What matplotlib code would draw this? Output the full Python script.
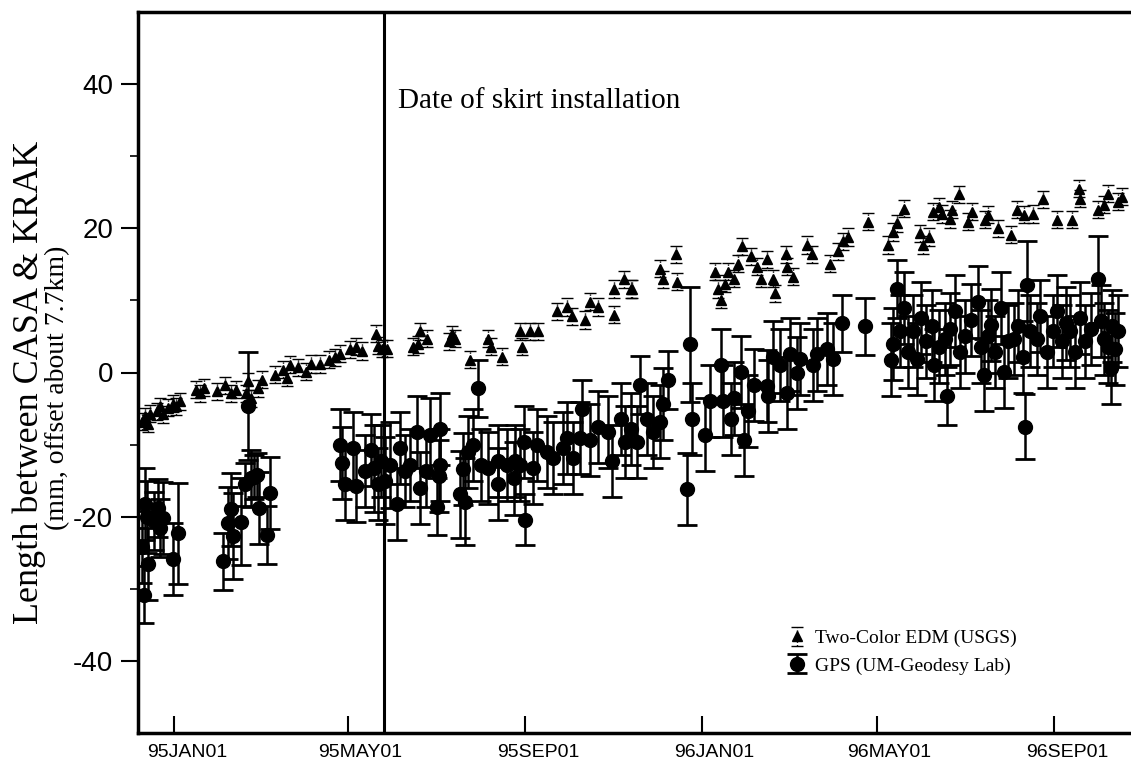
import matplotlib
matplotlib.use('Agg')
import matplotlib.pyplot as plt
import matplotlib.dates as mdates
import matplotlib.transforms as mtransforms
from matplotlib.ticker import FuncFormatter, FixedLocator
import numpy as np

plt.rcParams['axes.unicode_minus'] = False

# days counted from 1995-01-01
edm_day = [-22, -20, -18, -17, -12, -10, -8, -4, -1, 1, 4,
           15, 18, 21, 30, 35, 39, 43, 50, 51, 53, 58, 61, 70, 75, 78, 80, 86, 91, 95,
           101, 107, 111, 115, 122, 126, 130, 140, 141, 144, 147,
           165, 169, 170, 175, 190, 192, 194, 205, 217, 219, 227, 239, 241, 246, 252,
           265, 272, 275, 284, 288, 293, 304, 304, 311, 316, 317, 336, 338, 347, 348,
           374, 376, 378, 381, 383, 387, 390, 393, 399, 403, 406, 410, 414, 416,
           423, 424, 428, 438, 441, 454, 459, 463, 466, 480,
           494, 497, 500, 505, 516, 518, 522, 525, 529, 531, 537, 538, 543, 549, 552,
           561, 563, 570, 579, 583, 588, 594, 601, 611, 621, 626, 627, 639, 643, 646, 653, 656]
edm_mm = [-6.8, -6.1, -7.1, -5.7, -5.4, -4.7, -5.8, -4.9, -4.3, -4.7, -4.0,
          -2.4, -2.9, -2.1, -2.6, -1.8, -2.9, -2.4, -2.9, -1.2, -3.6, -2.2, -1.0, -0.3, 0.4, -0.7, 1.1, 0.7, 0.1, 1.2,
          1.2, 1.8, 2.1, 2.6, 3.2, 3.6, 3.0, 5.4, 3.7, 3.3, 3.3,
          3.6, 3.9, 5.7, 4.7, 4.3, 5.3, 4.7, 1.8, 4.7, 3.6, 2.2, 5.7, 3.6, 5.7, 5.7,
          8.5, 9.1, 7.8, 7.3, 9.8, 9.1, 11.6, 8.0, 12.9, 11.6, 11.6, 14.4, 12.9, 16.4, 12.6,
          14.0, 11.6, 10.1, 12.3, 14.0, 13.0, 15.1, 17.5, 16.1, 14.7, 13.0, 15.7, 13.0, 11.0,
          16.4, 14.7, 13.3, 17.7, 16.4, 15.1, 16.8, 18.2, 18.8, 20.9,
          17.7, 19.5, 20.7, 22.7, 19.3, 17.7, 18.8, 22.3, 23.0, 22.0, 21.3, 22.6, 24.7, 20.9, 22.3,
          21.2, 21.9, 20.0, 19.1, 22.6, 21.9, 22.0, 24.0, 21.2, 21.2, 25.5, 24.1, 22.6, 23.3, 24.8, 23.7, 24.4]
edm_err = 1.2

gps_day = [-20, -19, -22, -18, -21, -11, -8, -10, -14, -1, 3,
           34, 37, 39, 41, 46, 49, 51, 53, 55, 57, 59, 64, 66,
           115, 116, 118, 124, 126, 132, 136, 138, 141, 143, 146,
           149, 154, 156, 160, 163, 168, 170, 174, 177, 184, 184, 183, 182,
           198, 201, 200, 203, 210, 207, 212, 217, 224, 224, 230, 235, 236, 242, 239, 243,
           248, 251, 258, 262, 269, 272, 276, 282, 281, 288, 293, 300, 303, 309, 312, 316,
           320, 322, 327, 331, 336, 338, 342, 355, 357, 358,
           367, 371, 378, 380, 385, 387, 392, 394, 397, 401, 410, 411, 414, 419, 424,
           426, 431, 433, 442, 445, 452, 456, 462, 478,
           496, 497, 500, 502, 505, 508, 511, 514, 517, 520, 524, 526, 529, 533, 535,
           537, 540, 544, 547, 551, 556, 558, 560, 563, 565, 568, 572, 574, 577, 581,
           584, 587, 589, 590, 592, 597, 599, 604, 608, 611, 614, 617, 620, 623, 627,
           630, 634, 639, 641, 643, 646, 648, 649, 651, 653]
gps_mm = [-18.3, -20.0, -24.2, -26.6, -30.8, -18.8, -20.2, -21.6, -20.6, -25.9, -22.3,
          -26.2, -20.9, -19.0, -22.7, -20.7, -15.5, -4.7, -14.7, -14.5, -14.2, -18.8, -22.5, -16.7,
          -10.0, -12.6, -15.5, -10.5, -15.8, -13.7, -10.7, -13.3, -15.5, -12.3, -15.0,
          -12.8, -18.3, -10.5, -13.7, -12.8, -8.2, -16.0, -13.7, -8.6, -7.8, -12.8, -14.4, -18.6,
          -16.9, -17.9, -13.4, -11.0, -2.2, -10.0, -12.8, -13.3, -12.3, -15.5, -12.8, -14.7, -12.3, -9.6, -12.8, -20.4,
          -13.3, -10.0, -11.0, -11.9, -10.5, -9.1, -11.9, -5.0, -9.1, -9.3, -7.5, -8.2, -12.3, -6.4, -9.6, -7.8,
          -9.6, -1.7, -6.4, -8.2, -6.8, -4.4, -1.0, -16.2, 3.9, -6.5,
          -8.6, -4.0, 1.1, -4.0, -6.4, -3.6, 0.1, -9.3, -5.4, -1.7, -1.9, -3.3, 2.2, 1.1, -2.9,
          2.5, -0.1, 1.9, 1.1, 2.5, 3.3, 1.9, 6.8, 6.4,
          1.8, 3.9, 11.6, 5.7, 8.9, 2.9, 5.7, 1.9, 7.5, 4.3, 6.4, 1.1, 3.6, 4.7, -3.3,
          6.0, 8.5, 2.9, 5.0, 7.3, 9.8, 3.6, -0.3, 5.0, 6.6, 2.9, 8.9, 0.1, 4.3, 4.7,
          6.4, 2.2, -7.5, 12.2, 5.7, 4.7, 7.8, 2.9, 5.7, 8.5, 4.3, 6.8, 5.7, 2.9, 7.5,
          4.3, 6.0, 12.9, 7.1, 4.7, 3.6, 0.6, 6.4, 3.3, 5.7]
gps_err = [5, 5, 5, 5, 4, 4, 5, 4, 4, 5, 7,
           4, 5, 5, 6, 6, 3, 7.5, 4, 3, 3, 5, 4, 5,
           5, 5, 5, 5, 5, 5, 5, 6, 5, 5, 6,
           6, 5, 5, 5, 5, 5, 5, 5, 5, 5, 5, 5, 4,
           6, 6, 5, 5, 4, 5, 5, 5, 5, 5, 5, 5, 5, 5, 5, 3.5,
           5, 5, 5, 5, 5, 5, 5, 4, 5, 5, 5, 5, 5, 5, 5, 5,
           5, 4, 5, 5, 5, 5, 4, 5, 8, 5,
           5, 5, 5, 5, 5, 5, 5, 5, 5, 5, 5, 5, 5, 5, 5,
           5, 5, 5, 5, 5, 5, 5, 4, 4,
           5, 5, 4, 5, 5, 5, 5, 5, 5, 5, 5, 5, 5, 5, 4,
           5, 5, 5, 5, 5, 5, 5, 5, 5, 5, 5, 5, 5, 5, 5,
           5, 5, 4.5, 6, 5, 5, 5, 5, 5, 5, 5, 5, 5, 5, 5,
           5, 5, 6, 5, 5, 5, 5, 5, 5, 5]

tick_dates = ['1995-01-01', '1995-05-01', '1995-09-01', '1996-01-01', '1996-05-01', '1996-09-01']
skirt_date = '1995-05-26'

t0 = np.datetime64('1995-01-01')
edm_t = t0 + np.array(edm_day).astype('timedelta64[D]')
gps_t = t0 + np.array(gps_day).astype('timedelta64[D]')

serif = 'Liberation Serif'
sans = 'Liberation Sans'

fig = plt.figure(figsize=(11.31, 7.69), dpi=100)
ax = fig.add_axes([138 / 1131, 36 / 769, 1 - 138 / 1131, 721 / 769])

gps = ax.errorbar(gps_t, gps_mm, yerr=gps_err, fmt='o', color='black', ms=10,
                  capsize=7, elinewidth=1.8, capthick=2.0)
edm = ax.errorbar(edm_t, edm_mm, yerr=edm_err, fmt='^', color='black', ms=7.5,
                  capsize=4, elinewidth=1.0, capthick=1.0)
edm[2][0].set_linestyle(':')

ax.axvline(np.datetime64(skirt_date), color='black', lw=2.2)
ax.text(np.datetime64('1995-06-05'), 37.6, 'Date of skirt installation',
        family=serif, fontsize=21, va='center', ha='left')

ax.set_xlim(np.datetime64('1994-12-07'), np.datetime64('1996-10-24'))
ax.set_ylim(-50, 50)

ax.set_xticks([np.datetime64(d) for d in tick_dates])
ax.xaxis.set_major_formatter(FuncFormatter(lambda x, pos: mdates.num2date(x).strftime('%y%b%d').upper()))
ax.set_yticks([-40, -20, 0, 20, 40])
ax.yaxis.set_minor_locator(FixedLocator([-30, -10, 10, 30]))

ax.tick_params(axis='x', direction='in', length=12, width=1.5, labelsize=14, pad=8)
ax.tick_params(axis='y', which='major', direction='out', length=12, width=1.5, labelsize=20, pad=6)
ax.tick_params(axis='y', which='minor', direction='out', length=6, width=1.2)
for lab in ax.get_xticklabels():
    lab.set_family(sans)
    lab.set_transform(lab.get_transform() + mtransforms.ScaledTranslation(0.13, 0, fig.dpi_scale_trans))
for lab in ax.get_yticklabels():
    lab.set_family(sans)

ax.spines['right'].set_visible(False)
for s in ['left', 'bottom', 'top']:
    ax.spines[s].set_linewidth(2.5)

fig.text(29 / 1131, 1 - 382 / 769, 'Length between CASA & KRAK', rotation=90,
         family=serif, fontsize=26, ha='center', va='center')
fig.text(58 / 1131, 1 - 388 / 769, '(mm, offset about 7.7km)', rotation=90,
         family=serif, fontsize=20, ha='center', va='center')

ax.legend([edm, gps], ['Two-Color EDM (USGS)', 'GPS (UM-Geodesy Lab)'],
          loc='upper left', bbox_to_anchor=(770 / 1131, 1 - 612 / 769), bbox_transform=fig.transFigure,
          frameon=False, handlelength=1.0, handletextpad=0.4, labelspacing=0.5,
          prop={'family': serif, 'size': 14})

fig.savefig('out.png', dpi=100)
